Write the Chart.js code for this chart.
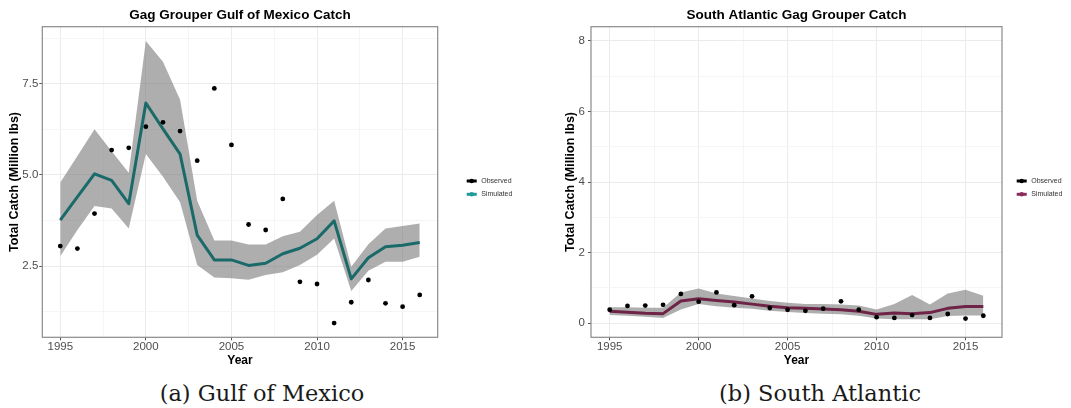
<!DOCTYPE html>
<html>
<head>
<meta charset="utf-8">
<script src="https://cdn.jsdelivr.net/npm/chart.js@4.4.1/dist/chart.umd.min.js"></script>
<style>
  html, body { margin: 0; padding: 0; background: #fff; }
  #page { position: relative; width: 1071px; height: 408px; overflow: hidden; background: #fff; }
  canvas { position: absolute; top: 0; }
  #gom { left: 0; }
  #sa { left: 540px; }
  .cap { position: absolute; top: 380px; width: 400px; text-align: center;
         font-family: "DejaVu Serif", "Liberation Serif", serif; font-size: 22.5px; line-height: 26px; color: #1a1a1a; }
</style>
</head>
<body>
<div id="page">
  <canvas id="gom" width="540" height="372"></canvas>
  <canvas id="sa" width="531" height="372"></canvas>
  <div class="cap" style="left:62px">(a) Gulf of Mexico</div>
  <div class="cap" style="left:620px">(b) South Atlantic</div>
</div>
<script>
// Catch per year, million lbs
const years = [1995, 1996, 1997, 1998, 1999, 2000, 2001, 2002, 2003, 2004, 2005,
               2006, 2007, 2008, 2009, 2010, 2011, 2012, 2013, 2014, 2015, 2016];

// Gulf of Mexico
const gomObserved  = [3.05, 2.98, 3.94, 5.68, 5.74, 6.32, 6.44, 6.20, 5.39, 7.37, 5.82,
                      3.64, 3.49, 4.34, 2.07, 2.01, 0.94, 1.51, 2.12, 1.48, 1.39, 1.71];
const gomSimulated = [3.76, 4.40, 5.03, 4.85, 4.21, 6.97, 6.26, 5.57, 3.35, 2.67, 2.67,
                      2.52, 2.58, 2.84, 2.99, 3.25, 3.74, 2.15, 2.73, 3.03, 3.07, 3.15];
const gomUpper     = [4.79, 5.52, 6.25, 5.65, 5.06, 8.67, 8.10, 7.06, 4.29, 3.20, 3.20,
                      3.09, 3.09, 3.32, 3.44, 3.90, 4.29, 2.48, 3.10, 3.53, 3.60, 3.67];
const gomLower     = [2.77, 3.49, 4.15, 4.08, 3.53, 5.57, 4.95, 4.25, 2.53, 2.19, 2.17,
                      2.13, 2.26, 2.33, 2.53, 2.81, 3.26, 1.82, 2.37, 2.62, 2.62, 2.76];

// South Atlantic
const saObserved  = [0.38, 0.49, 0.50, 0.52, 0.83, 0.61, 0.87, 0.51, 0.76, 0.43, 0.38,
                     0.35, 0.41, 0.62, 0.38, 0.17, 0.15, 0.23, 0.15, 0.26, 0.13, 0.21];
const saSimulated = [0.34, 0.31, 0.28, 0.27, 0.63, 0.69, 0.64, 0.60, 0.54, 0.48, 0.44,
                     0.42, 0.40, 0.38, 0.34, 0.25, 0.29, 0.27, 0.30, 0.42, 0.47, 0.47];
const saUpper     = [0.45, 0.45, 0.44, 0.44, 0.87, 0.98, 0.84, 0.77, 0.70, 0.63, 0.58,
                     0.54, 0.54, 0.53, 0.50, 0.39, 0.54, 0.80, 0.53, 0.84, 0.95, 0.78];
const saLower     = [0.23, 0.21, 0.18, 0.15, 0.39, 0.54, 0.48, 0.44, 0.41, 0.35, 0.32,
                     0.29, 0.27, 0.25, 0.21, 0.13, 0.11, 0.11, 0.11, 0.20, 0.22, 0.22];

// Axis breaks
const yearTicks = [1995, 2000, 2005, 2010, 2015];
const yearMinorTicks = [1997.5, 2002.5, 2007.5, 2012.5];
const gomCatchTicks = [2.5, 5.0, 7.5];
const gomCatchMinorTicks = [1.25, 3.75, 6.25, 8.75];
const saCatchTicks = [0, 2, 4, 6, 8];
const saCatchMinorTicks = [1, 3, 5, 7];

const SANS = '"Liberation Sans", Arial, Helvetica, sans-serif';
const MAJOR_GRID = '#ebebeb';
const MINOR_GRID = '#f5f5f5';

function tickSet(major, minor) {
  return major.map(v => ({ value: v }))
    .concat(minor.map(v => ({ value: v, minor: true })))
    .sort((a, b) => a.value - b.value);
}

// grey frame around the plotting panel
const panelFrame = {
  id: 'panelFrame',
  afterDatasetsDraw(chart) {
    const { ctx, chartArea: a } = chart;
    ctx.save();
    ctx.strokeStyle = '#8a8a8a';
    ctx.lineWidth = 1.2;
    ctx.strokeRect(a.left, a.top, a.right - a.left, a.bottom - a.top);
    ctx.restore();
  }
};

// small key to the right of the panel
const keyBox = {
  id: 'keyBox',
  afterDraw(chart, args, opts) {
    if (!opts || opts.x === undefined) return;
    const ctx = chart.ctx;
    ctx.save();
    let row = 0;
    chart.data.datasets.forEach(ds => {
      if (!ds.keyColor) return;
      const y = opts.rows[row++];
      ctx.strokeStyle = ds.keyColor;
      ctx.lineWidth = 3;
      ctx.beginPath();
      ctx.moveTo(opts.x, y);
      ctx.lineTo(opts.x + 10, y);
      ctx.stroke();
      ctx.fillStyle = ds.keyColor;
      ctx.beginPath();
      ctx.arc(opts.x + 5, y, 2.2, 0, Math.PI * 2);
      ctx.fill();
      ctx.fillStyle = '#333';
      ctx.font = '7px ' + SANS;
      ctx.textBaseline = 'middle';
      ctx.textAlign = 'left';
      ctx.fillText(ds.label, opts.x + 14.5, y);
    });
    ctx.restore();
  }
};

Chart.register(panelFrame, keyBox);

function buildPanel(id, cfg) {
  const pts = arr => years.map((yr, i) => ({ x: yr, y: arr[i] }));
  const gridColor = c => (c.tick && c.tick.minor ? MINOR_GRID : MAJOR_GRID);
  const tickColor = c => (c.tick && c.tick.minor ? 'rgba(0,0,0,0)' : '#555');
  return new Chart(document.getElementById(id), {
    type: 'line',
    data: {
      datasets: [
        { label: 'Observed', data: pts(cfg.observed), xAxisID: 'x', yAxisID: 'y',
          showLine: false, pointRadius: 2.4, pointBorderWidth: 0,
          pointBackgroundColor: '#000', borderColor: '#000', order: 0, keyColor: '#000' },
        { label: 'Simulated', data: pts(cfg.simulated), xAxisID: 'x', yAxisID: 'y',
          borderColor: cfg.lineColor, borderWidth: 3, pointRadius: 0, tension: 0,
          borderJoinStyle: 'round', fill: false, order: 1, keyColor: cfg.keyColor },
        { label: 'Upper', data: pts(cfg.upper), xAxisID: 'x', yAxisID: 'y',
          borderWidth: 0, borderColor: 'rgba(0,0,0,0)', pointRadius: 0, tension: 0,
          fill: '+1', backgroundColor: 'rgba(125,125,125,0.62)', order: 2 },
        { label: 'Lower', data: pts(cfg.lower), xAxisID: 'x', yAxisID: 'y',
          borderWidth: 0, borderColor: 'rgba(0,0,0,0)', pointRadius: 0, tension: 0,
          fill: false, order: 3 }
      ]
    },
    options: {
      responsive: false,
      animation: false,
      devicePixelRatio: 1,
      layout: { padding: { left: 0, right: cfg.padRight, top: 0, bottom: 0 } },
      plugins: {
        legend: { display: false },
        tooltip: { enabled: false },
        keyBox: { x: cfg.keyX, rows: [181, 194.3] }
      },
      scales: {
        x: {
          type: 'linear', position: 'bottom', min: 1993.95, max: 2017.05,
          afterBuildTicks: s => { s.ticks = tickSet(yearTicks, yearMinorTicks); },
          afterFit: s => { s.height = 34.7; },
          ticks: { autoSkip: false, maxRotation: 0, minRotation: 0, padding: 0, color: '#4d4d4d',
                   font: { family: SANS, size: 11.5 },
                   callback: (v, i, t) => (t[i].minor ? '' : String(v)) },
          grid: { color: gridColor, tickColor: tickColor, tickLength: 3, lineWidth: 1 },
          border: { display: false },
          title: { display: true, text: 'Year', color: '#000',
                   font: { family: SANS, size: 12, weight: 'bold' }, padding: { top: 0, bottom: 4.2 } }
        },
        y: {
          type: 'linear', position: 'left', min: cfg.yMin, max: cfg.yMax,
          afterBuildTicks: s => { s.ticks = tickSet(cfg.yTicks, cfg.yMinor); },
          afterFit: s => { s.width = cfg.yWidth; },
          ticks: { autoSkip: false, padding: cfg.yTickPad, color: '#4d4d4d',
                   font: { family: SANS, size: 11.5 },
                   callback: (v, i, t) => (t[i].minor ? '' : v.toFixed(cfg.yDigits)) },
          grid: { color: gridColor, tickColor: tickColor, tickLength: 3, lineWidth: 1 },
          border: { display: false },
          title: { display: true, text: 'Total Catch (Million lbs)', color: '#000',
                   font: { family: SANS, size: 12.5, weight: 'bold' },
                   padding: { top: cfg.yTitlePad, bottom: 0 } }
        },
        head: {
          type: 'linear', position: 'top', display: true,
          afterFit: s => { s.height = 26.7; },
          grid: { display: false, drawTicks: false },
          ticks: { display: false },
          border: { display: false },
          title: { display: true, text: cfg.title, color: '#000',
                   font: { family: SANS, size: 13.5, weight: 'bold' }, padding: { top: 7, bottom: 0 } }
        }
      }
    }
  });
}

buildPanel('gom', {
  title: 'Gag Grouper Gulf of Mexico Catch',
  observed: gomObserved, simulated: gomSimulated, upper: gomUpper, lower: gomLower,
  lineColor: '#1b6a6a', keyColor: '#22999a',
  yMin: 0.55, yMax: 9.06, yTicks: gomCatchTicks, yMinor: gomCatchMinorTicks, yDigits: 1,
  yWidth: 42.3, yTickPad: 1, yTitlePad: 7.5, padRight: 102.3, keyX: 466.7
});

buildPanel('sa', {
  title: 'South Atlantic Gag Grouper Catch',
  observed: saObserved, simulated: saSimulated, upper: saUpper, lower: saLower,
  lineColor: '#6e2347', keyColor: '#8c2a5c',
  yMin: -0.4, yMax: 8.4, yTicks: saCatchTicks, yMinor: saCatchMinorTicks, yDigits: 0,
  yWidth: 51, yTickPad: 3, yTitlePad: 23.2, padRight: 69, keyX: 476.7
});
</script>
</body>
</html>
